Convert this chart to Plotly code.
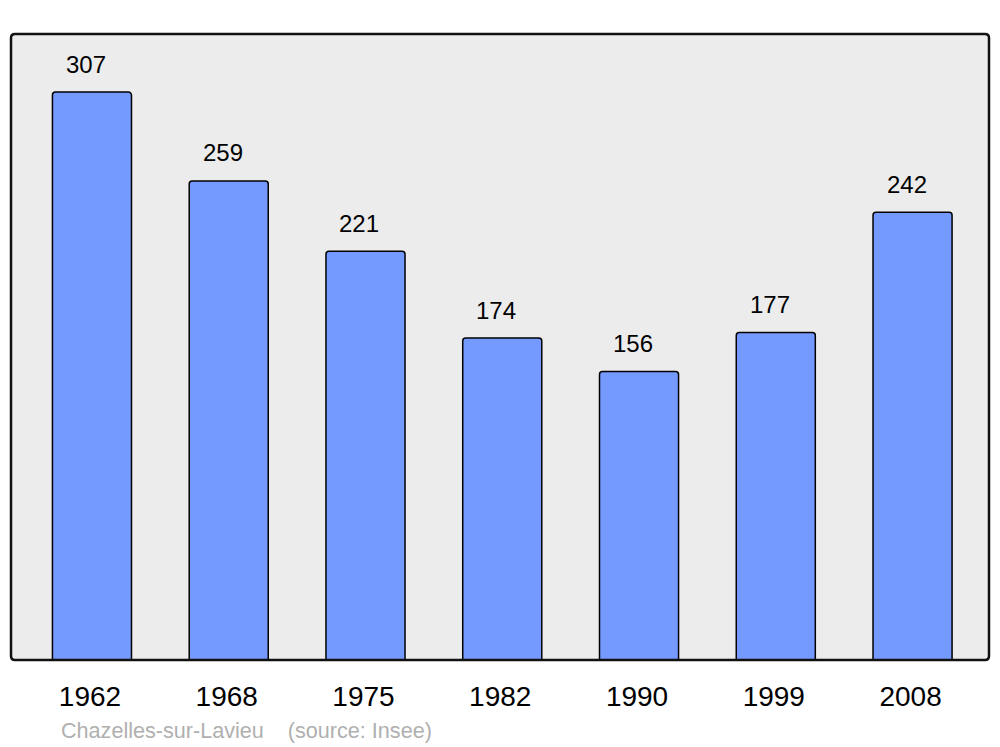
import plotly.graph_objects as go

years = ["1962", "1968", "1975", "1982", "1990", "1999", "2008"]
population = [307, 259, 221, 174, 156, 177, 242]
source_text = "Chazelles-sur-Lavieu    (source: Insee)"

W, H = 1000, 747
L, R, T, B = 11, 11, 34, 87
PW, PH = W - L - R, H - T - B
FONT = "Liberation Sans, Arial, sans-serif"

x_idx = list(range(len(years)))

fig = go.Figure()
fig.add_trace(go.Bar(
    x=x_idx, y=population, width=0.578,
    marker=dict(color="#7499ff", line=dict(color="#000000", width=1.5), cornerradius=3),
    hoverinfo="skip",
))

for i, v in zip(x_idx, population):
    fig.add_annotation(x=i, y=v, text=str(v), showarrow=False, xref="x", yref="y",
                       yanchor="middle", yshift=28, xshift=-6,
                       font=dict(family=FONT, size=24, color="#000000"))

fig.add_annotation(x=(59 - L) / PW, y=(H - B - 730) / PH, xref="paper", yref="paper",
                   showarrow=False, xanchor="left", yanchor="middle", text=source_text,
                   font=dict(family=FONT, size=21.6, color="#b0b0b0"))

# Frame with rounded corners
rx, ry = 4 / PW, 4 / PH
path = (f"M {rx},0 L {1-rx},0 Q 1,0 1,{ry} "
        f"L 1,{1-ry} Q 1,1 {1-rx},1 L {rx},1 Q 0,1 0,{1-ry} "
        f"L 0,{ry} Q 0,0 {rx},0 Z")
fig.add_shape(type="path", path=path, xref="x domain", yref="y domain",
              line=dict(color="#111111", width=2.5), layer="above")

fig.update_layout(
    width=W, height=H,
    margin=dict(l=L, r=R, t=T, b=B, autoexpand=False),
    paper_bgcolor="#ffffff", plot_bgcolor="#ececec",
    showlegend=False,
    font=dict(family=FONT, color="#000000"),
    xaxis=dict(range=[-0.592, 6.559], tickmode="array", tickvals=x_idx, ticktext=years,
               showgrid=False, zeroline=False, showline=False,
               ticks="outside", ticklen=11, tickcolor="rgba(0,0,0,0)",
               ticklabelshift=-2,
               tickfont=dict(size=28, family=FONT, color="#000000"),
               fixedrange=True),
    yaxis=dict(range=[0, 338.4], showgrid=False, zeroline=False, showline=False,
               showticklabels=False, ticks="", fixedrange=True),
)

fig.write_html("out.html", config={"displayModeBar": False},
               post_script="document.body.style.margin='0';document.body.style.padding='0';")
